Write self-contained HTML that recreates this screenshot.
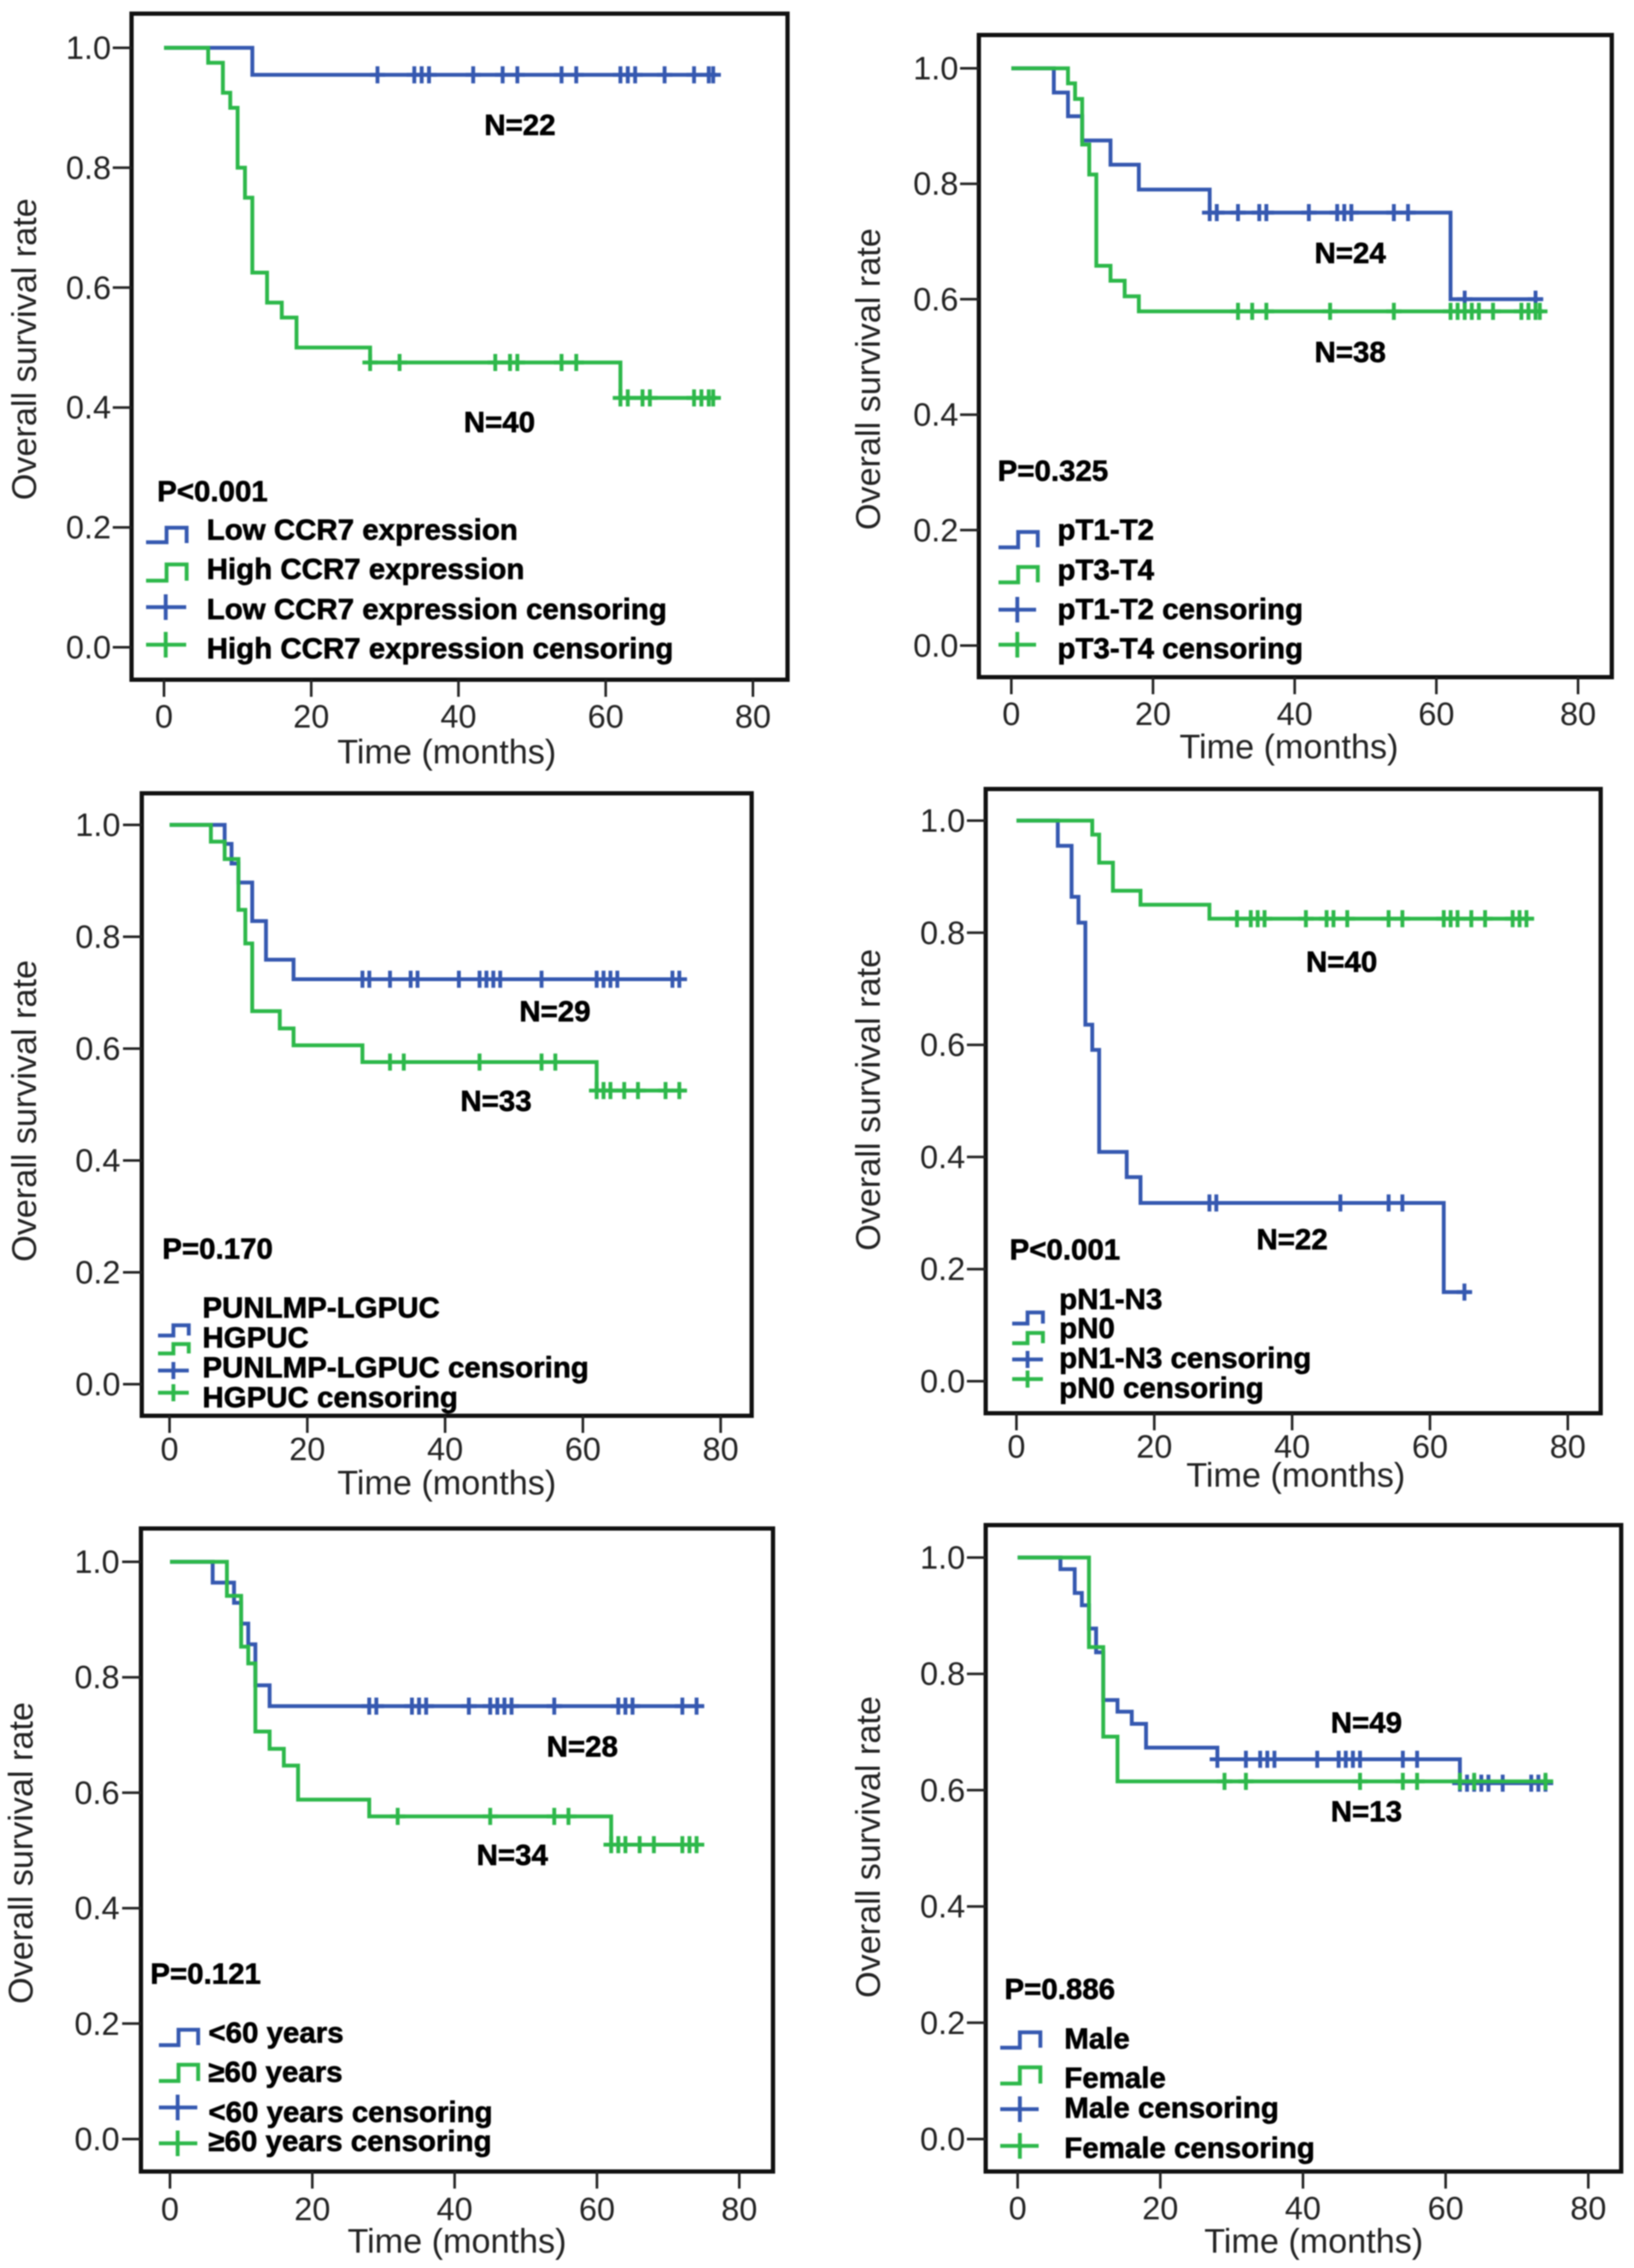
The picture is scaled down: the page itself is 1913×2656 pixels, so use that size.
<!DOCTYPE html>
<html lang="en">
<head>
<meta charset="utf-8">
<title>Kaplan-Meier overall survival curves</title>
<style>
html,body{margin:0;padding:0;background:#fff;}
svg{display:block;filter:blur(0.9px);}
text{font-family:"Liberation Sans",Arial,sans-serif;fill:#222;}
.tick{font-size:38px;}
.title{font-size:40px;}
.b{font-size:34.5px;font-weight:bold;fill:#000;stroke:#000;stroke-width:.7px;}
.frame{fill:none;stroke:#111;stroke-width:5;}
.blue{fill:none;stroke:#3558b0;stroke-width:4.5;}
.green{fill:none;stroke:#2db84a;stroke-width:4.5;}
</style>
</head>
<body>
<svg xmlns="http://www.w3.org/2000/svg" width="1913" height="2656" viewBox="0 0 1913 2656">

<g id="panel1">
  <rect class="frame" x="154" y="16" width="768" height="780"/>
  <text class="title" x="523" y="894" text-anchor="middle">Time (months)</text>
  <text class="title" transform="translate(42,409) rotate(-90)" text-anchor="middle">Overall survival rate</text>
  <text class="b" x="567" y="158">N=22</text>
  <text class="b" x="543" y="506">N=40</text>
  <text class="b" x="184" y="587">P&lt;0.001</text>
  <path class="blue" d="M171 635H195V618H218.500V636"/>
  <path class="green" d="M171 680H195V661H218.500V680"/>
  <path class="blue" d="M171 711H218M194 696V726"/>
  <path class="green" d="M171 755H218M194 740V770"/>
  <text class="b" x="242" y="632">Low CCR7 expression</text>
  <text class="b" x="242" y="678">High CCR7 expression</text>
  <text class="b" x="242" y="725">Low CCR7 expression censoring</text>
  <text class="b" x="242" y="771">High CCR7 expression censoring</text>
</g>

<g id="panel2">
  <rect class="frame" x="1146" y="41" width="741" height="752"/>
  <text class="title" x="1509" y="888" text-anchor="middle">Time (months)</text>
  <text class="title" transform="translate(1030,444) rotate(-90)" text-anchor="middle">Overall survival rate</text>
  <text class="b" x="1539" y="308">N=24</text>
  <text class="b" x="1539" y="424">N=38</text>
  <text class="b" x="1168" y="563">P=0.325</text>
  <path class="blue" d="M1169 641H1192V623H1215V641"/>
  <path class="green" d="M1169 682H1192V664H1215V682"/>
  <path class="blue" d="M1169 714H1213M1191 699V729"/>
  <path class="green" d="M1169 755H1213M1191 740V770"/>
  <text class="b" x="1238" y="632">pT1-T2</text>
  <text class="b" x="1238" y="679">pT3-T4</text>
  <text class="b" x="1238" y="725">pT1-T2 censoring</text>
  <text class="b" x="1238" y="771">pT3-T4 censoring</text>
</g>

<g id="panel3">
  <rect class="frame" x="166" y="929" width="714" height="729"/>
  <text class="title" x="523" y="1750" text-anchor="middle">Time (months)</text>
  <text class="title" transform="translate(42,1301) rotate(-90)" text-anchor="middle">Overall survival rate</text>
  <text class="b" x="608" y="1196">N=29</text>
  <text class="b" x="539" y="1301">N=33</text>
  <text class="b" x="190" y="1474">P=0.170</text>
  <path class="blue" d="M185 1564H203V1552H221V1564"/>
  <path class="green" d="M185 1585H203V1574H221V1585"/>
  <path class="blue" d="M185 1605H221M203 1595V1615"/>
  <path class="green" d="M185 1631H221M203 1621V1641"/>
  <text class="b" x="237" y="1543">PUNLMP-LGPUC</text>
  <text class="b" x="237" y="1578">HGPUC</text>
  <text class="b" x="237" y="1613">PUNLMP-LGPUC censoring</text>
  <text class="b" x="237" y="1648">HGPUC censoring</text>
</g>

<g id="panel4">
  <rect class="frame" x="1154" y="924" width="720" height="731"/>
  <text class="title" x="1517" y="1741" text-anchor="middle">Time (months)</text>
  <text class="title" transform="translate(1030,1288) rotate(-90)" text-anchor="middle">Overall survival rate</text>
  <text class="b" x="1529" y="1138">N=40</text>
  <text class="b" x="1471" y="1463">N=22</text>
  <text class="b" x="1182" y="1475">P&lt;0.001</text>
  <path class="blue" d="M1185 1550H1203V1537H1221V1550"/>
  <path class="green" d="M1185 1573H1203V1561H1221V1573"/>
  <path class="blue" d="M1185 1592H1221M1203 1582V1602"/>
  <path class="green" d="M1185 1615H1221M1203 1605V1625"/>
  <text class="b" x="1240" y="1533">pN1-N3</text>
  <text class="b" x="1240" y="1567">pN0</text>
  <text class="b" x="1240" y="1602">pN1-N3 censoring</text>
  <text class="b" x="1240" y="1637">pN0 censoring</text>
</g>

<g id="panel5">
  <rect class="frame" x="165" y="1790" width="740" height="753"/>
  <text class="title" x="535" y="2638" text-anchor="middle">Time (months)</text>
  <text class="title" transform="translate(38,2170) rotate(-90)" text-anchor="middle">Overall survival rate</text>
  <text class="b" x="640" y="2057">N=28</text>
  <text class="b" x="558" y="2184">N=34</text>
  <text class="b" x="176" y="2323">P=0.121</text>
  <path class="blue" d="M186 2395H209V2377H232V2395"/>
  <path class="green" d="M186 2437H209V2418H232V2437"/>
  <path class="blue" d="M186 2468H231M208 2453V2483"/>
  <path class="green" d="M186 2510H231M208 2495V2525"/>
  <text class="b" x="244" y="2392">&lt;60 years</text>
  <text class="b" x="244" y="2438">≥60 years</text>
  <text class="b" x="244" y="2485">&lt;60 years censoring</text>
  <text class="b" x="244" y="2519">≥60 years censoring</text>
</g>

<g id="panel6">
  <rect class="frame" x="1154" y="1786" width="744" height="757"/>
  <text class="title" x="1538" y="2638" text-anchor="middle">Time (months)</text>
  <text class="title" transform="translate(1030,2163) rotate(-90)" text-anchor="middle">Overall survival rate</text>
  <text class="b" x="1558" y="2029">N=49</text>
  <text class="b" x="1558" y="2133">N=13</text>
  <text class="b" x="1176" y="2341">P=0.886</text>
  <path class="blue" d="M1171 2398H1194V2380H1218V2398"/>
  <path class="green" d="M1171 2440H1194V2421H1218V2440"/>
  <path class="blue" d="M1171 2470H1216M1194 2455V2485"/>
  <path class="green" d="M1171 2513H1216M1194 2498V2528"/>
  <text class="b" x="1246" y="2399">Male</text>
  <text class="b" x="1246" y="2445">Female</text>
  <text class="b" x="1246" y="2480">Male censoring</text>
  <text class="b" x="1246" y="2527">Female censoring</text>
</g>
</svg>

<script>
// Shared axis values
const xTickValues = [0, 20, 40, 60, 80];
const xTickLabels = ['0', '20', '40', '60', '80'];
const yTickValues = [0, 0.2, 0.4, 0.6, 0.8, 1];
const yTickLabels = ['0.0', '0.2', '0.4', '0.6', '0.8', '1.0'];

// Panel 1: CCR7 expression
const p1LowTimes = [0, 12];
const p1LowSurvival = [1, 0.955];
const p1LowEnd = 75;
const p1LowCensored = [29, 34, 35, 36, 42, 46, 48, 54, 56, 62, 63, 64, 68, 72, 74, 74.6];
const p1HighTimes = [0, 6, 8, 9, 10, 11, 12, 14, 16, 18, 28, 62];
const p1HighSurvival = [1, 0.975, 0.925, 0.9, 0.8, 0.75, 0.625, 0.575, 0.55, 0.5, 0.475, 0.416];
const p1HighEnd = 75;
const p1HighCensored = [28, 32, 45, 47, 48, 54, 56, 62, 63, 65, 66, 72, 73, 74, 74.6];

// Panel 2: pT stage
const p2EarlyTimes = [0, 6, 8, 10, 14, 18, 28, 62];
const p2EarlySurvival = [1, 0.958, 0.917, 0.875, 0.833, 0.79, 0.75, 0.6];
const p2EarlyEnd = 75;
const p2EarlyCensored = [28, 29, 32, 35, 36, 42, 46, 47, 48, 54, 56, 64, 74];
const p2LateTimes = [0, 8, 9, 10, 11, 12, 14, 16, 18];
const p2LateSurvival = [1, 0.974, 0.947, 0.868, 0.816, 0.658, 0.632, 0.605, 0.579];
const p2LateEnd = 75;
const p2LateCensored = [32, 34, 36, 45, 54, 62, 63, 64, 65, 66, 68, 72, 73, 74, 74.6];

// Panel 3: grade
const p3LowGradeTimes = [0, 8, 9, 10, 12, 14, 18];
const p3LowGradeSurvival = [1, 0.966, 0.931, 0.897, 0.828, 0.759, 0.724];
const p3LowGradeEnd = 75;
const p3LowGradeCensored = [28, 29, 32, 35, 36, 42, 45, 46, 47, 48, 54, 62, 63, 64, 65, 73, 74];
const p3HighGradeTimes = [0, 6, 8, 10, 11, 12, 16, 18, 28, 62];
const p3HighGradeSurvival = [1, 0.97, 0.939, 0.848, 0.788, 0.667, 0.636, 0.606, 0.576, 0.525];
const p3HighGradeEnd = 75;
const p3HighGradeCensored = [32, 34, 45, 54, 56, 62, 63, 64, 66, 68, 72, 74];

// Panel 4: pN stage
const p4PositiveTimes = [0, 6, 8, 9, 10, 11, 12, 16, 18, 62];
const p4PositiveSurvival = [1, 0.955, 0.864, 0.818, 0.636, 0.591, 0.409, 0.364, 0.318, 0.159];
const p4PositiveEnd = 66;
const p4PositiveCensored = [28, 29, 47, 54, 56, 65];
const p4NegativeTimes = [0, 11, 12, 14, 18, 28];
const p4NegativeSurvival = [1, 0.975, 0.925, 0.875, 0.85, 0.825];
const p4NegativeEnd = 75;
const p4NegativeCensored = [32, 34, 35, 36, 42, 45, 46, 48, 54, 56, 62, 63, 64, 66, 68, 72, 73, 74];

// Panel 5: age
const p5YoungTimes = [0, 6, 9, 10, 11, 12, 14];
const p5YoungSurvival = [1, 0.964, 0.929, 0.893, 0.857, 0.786, 0.75];
const p5YoungEnd = 75;
const p5YoungCensored = [28, 29, 34, 35, 36, 42, 45, 46, 47, 48, 54, 63, 64, 65, 72, 74];
const p5OldTimes = [0, 8, 10, 11, 12, 14, 16, 18, 28, 62];
const p5OldSurvival = [1, 0.941, 0.853, 0.824, 0.706, 0.676, 0.647, 0.588, 0.559, 0.51];
const p5OldEnd = 75;
const p5OldCensored = [32, 45, 54, 56, 62, 63, 64, 66, 68, 72, 73, 74];

// Panel 6: sex
const p6MaleTimes = [0, 6, 8, 9, 10, 11, 12, 14, 16, 18, 28, 62];
const p6MaleSurvival = [1, 0.98, 0.939, 0.918, 0.878, 0.837, 0.755, 0.735, 0.714, 0.673, 0.653, 0.612];
const p6MaleEnd = 75;
const p6MaleCensored = [28, 32, 34, 35, 36, 42, 45, 46, 47, 48, 54, 56, 62, 63, 64, 65, 66, 68, 72, 73, 74];
const p6FemaleTimes = [0, 10, 12, 14];
const p6FemaleSurvival = [1, 0.846, 0.692, 0.615];
const p6FemaleEnd = 75;
const p6FemaleCensored = [29, 32, 48, 54, 56, 62, 64, 74];

const NS = 'http://www.w3.org/2000/svg';

// Pixel layout of each panel's axes
const panelLayouts = [
  {id: 'panel1', x0: 192, x80: 881.5, y1: 56, y0: 758, left: 154, bottom: 796, labelEnd: 130, xLabelY: 852,
   blue: [p1LowTimes, p1LowSurvival, p1LowEnd, p1LowCensored], green: [p1HighTimes, p1HighSurvival, p1HighEnd, p1HighCensored]},
  {id: 'panel2', x0: 1184, x80: 1847.5, y1: 80, y0: 756, left: 1146, bottom: 793, labelEnd: 1122, xLabelY: 849,
   blue: [p2EarlyTimes, p2EarlySurvival, p2EarlyEnd, p2EarlyCensored], green: [p2LateTimes, p2LateSurvival, p2LateEnd, p2LateCensored]},
  {id: 'panel3', x0: 198.5, x80: 843.7, y1: 966, y0: 1621, left: 166, bottom: 1658, labelEnd: 141, xLabelY: 1710,
   blue: [p3LowGradeTimes, p3LowGradeSurvival, p3LowGradeEnd, p3LowGradeCensored], green: [p3HighGradeTimes, p3HighGradeSurvival, p3HighGradeEnd, p3HighGradeCensored]},
  {id: 'panel4', x0: 1190, x80: 1835.5, y1: 961, y0: 1617.5, left: 1154, bottom: 1655, labelEnd: 1130, xLabelY: 1707,
   blue: [p4PositiveTimes, p4PositiveSurvival, p4PositiveEnd, p4PositiveCensored], green: [p4NegativeTimes, p4NegativeSurvival, p4NegativeEnd, p4NegativeCensored]},
  {id: 'panel5', x0: 199, x80: 865.5, y1: 1829, y0: 2505, left: 165, bottom: 2543, labelEnd: 140, xLabelY: 2600,
   blue: [p5YoungTimes, p5YoungSurvival, p5YoungEnd, p5YoungCensored], green: [p5OldTimes, p5OldSurvival, p5OldEnd, p5OldCensored]},
  {id: 'panel6', x0: 1191.4, x80: 1859.5, y1: 1824, y0: 2505, left: 1154, bottom: 2543, labelEnd: 1130, xLabelY: 2599,
   blue: [p6MaleTimes, p6MaleSurvival, p6MaleEnd, p6MaleCensored], green: [p6FemaleTimes, p6FemaleSurvival, p6FemaleEnd, p6FemaleCensored]}
];

function survivalAt(times, survival, t) {
  let value = survival[0];
  for (let i = 0; i < times.length; i++) {
    if (times[i] <= t) value = survival[i];
  }
  return value;
}

function drawSeries(group, xScale, yScale, cls, seriesName, arrays) {
  const times = arrays[0], survival = arrays[1], end = arrays[2], censored = arrays[3];
  let d = 'M' + xScale(times[0]) + ' ' + yScale(survival[0]);
  for (let i = 1; i < times.length; i++) {
    d += 'H' + xScale(times[i]) + 'V' + yScale(survival[i]);
  }
  d += 'H' + xScale(end);
  const line = document.createElementNS(NS, 'path');
  line.setAttribute('class', cls);
  line.setAttribute('d', d);
  
  
  group.appendChild(line);
  censored.forEach(function (t) {
    const cx = xScale(t), cy = yScale(survivalAt(times, survival, t));
    const mark = document.createElementNS(NS, 'path');
    mark.setAttribute('class', cls);
    mark.setAttribute('d', 'M' + (cx - 9) + ' ' + cy + 'H' + (cx + 9) + 'M' + cx + ' ' + (cy - 10) + 'V' + (cy + 10));
    
    
    group.appendChild(mark);
  });
}

panelLayouts.forEach(function (p) {
  const group = document.getElementById(p.id);
  const xScale = function (t) { return p.x0 + (p.x80 - p.x0) * t / 80; };
  const yScale = function (v) { return p.y0 + (p.y1 - p.y0) * v; };

  xTickValues.forEach(function (v, i) {
    const tick = document.createElementNS(NS, 'line');
    tick.setAttribute('x1', xScale(v));
    tick.setAttribute('x2', xScale(v));
    tick.setAttribute('y1', p.bottom);
    tick.setAttribute('y2', p.bottom + 20);
    tick.setAttribute('stroke', '#222');
    tick.setAttribute('stroke-width', '3');
    
    
    group.appendChild(tick);
    const label = document.createElementNS(NS, 'text');
    label.setAttribute('class', 'tick');
    label.setAttribute('x', xScale(v));
    label.setAttribute('y', p.xLabelY);
    label.setAttribute('text-anchor', 'middle');
    
    
    label.textContent = xTickLabels[i];
    group.appendChild(label);
  });

  yTickValues.forEach(function (v, i) {
    const tick = document.createElementNS(NS, 'line');
    tick.setAttribute('x1', p.left - 22);
    tick.setAttribute('x2', p.left);
    tick.setAttribute('y1', yScale(v));
    tick.setAttribute('y2', yScale(v));
    tick.setAttribute('stroke', '#222');
    tick.setAttribute('stroke-width', '3');
    
    
    group.appendChild(tick);
    const label = document.createElementNS(NS, 'text');
    label.setAttribute('class', 'tick');
    label.setAttribute('x', p.labelEnd);
    label.setAttribute('y', yScale(v) + 13);
    label.setAttribute('text-anchor', 'end');
    
    
    label.textContent = yTickLabels[i];
    group.appendChild(label);
  });

  drawSeries(group, xScale, yScale, 'blue', 'blue-group', p.blue);
  drawSeries(group, xScale, yScale, 'green', 'green-group', p.green);
});
</script>
</body>
</html>
